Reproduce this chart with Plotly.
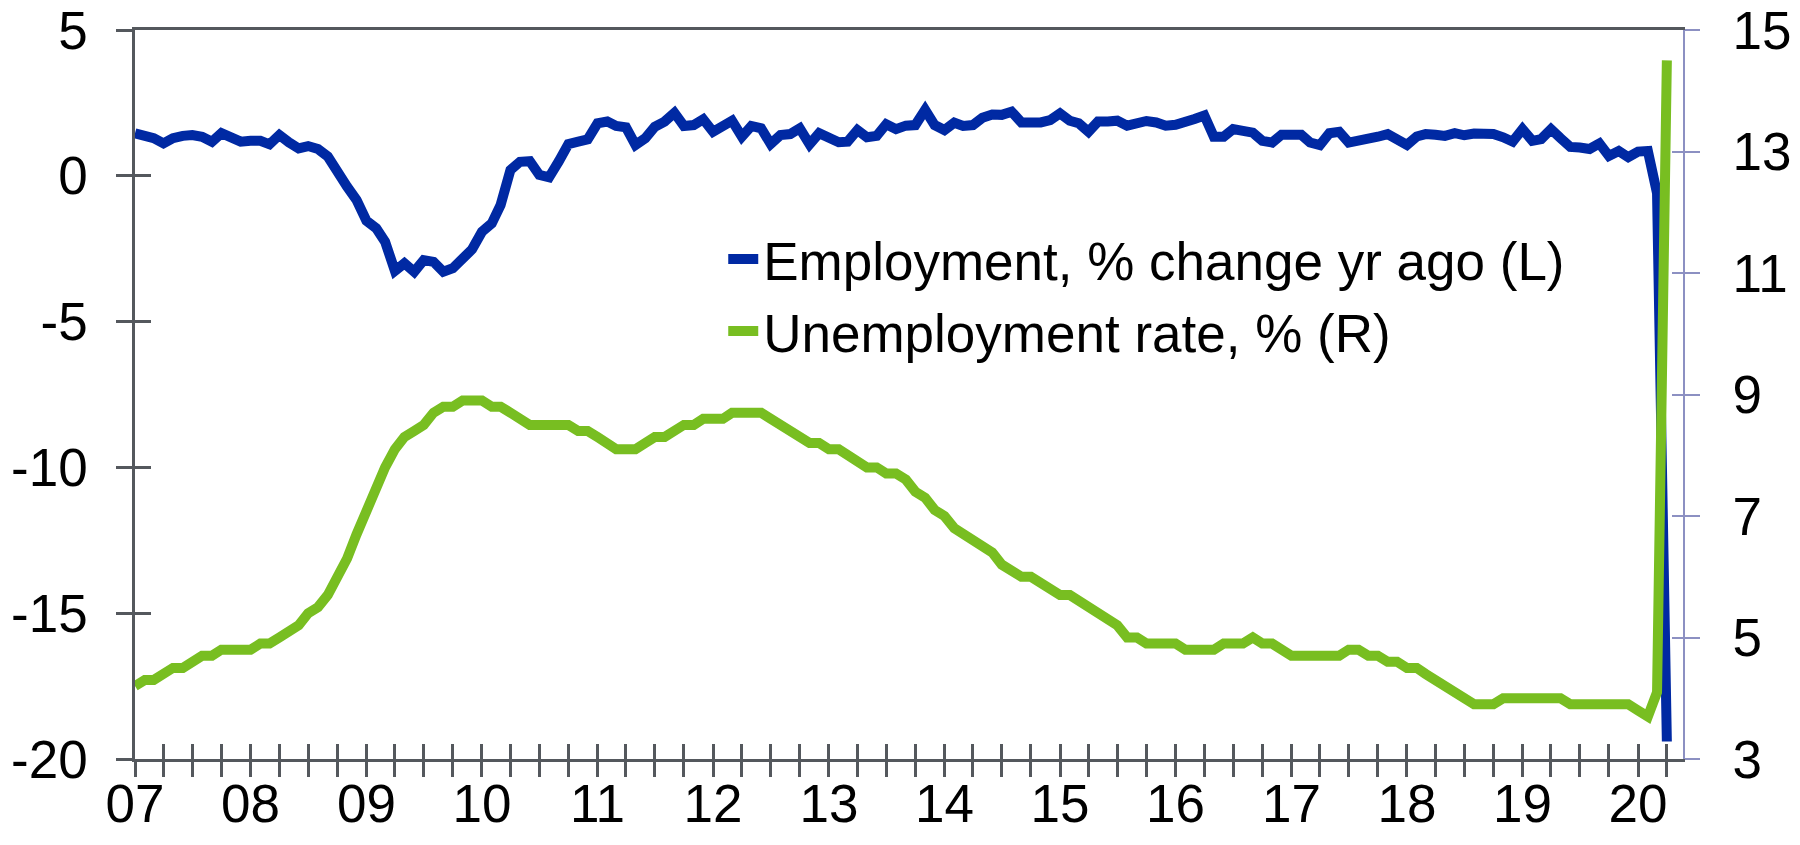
import pandas as pd
import plotly.graph_objects as go

# ---- data (monthly, Jan 2007 .. Apr 2020) ----
months = pd.date_range("2007-01-01", "2020-04-01", freq="MS")

employment_yoy = [
    1.46, 1.40, 1.29, 1.11, 1.29, 1.37, 1.40, 1.34, 1.17, 1.46, 1.34, 1.17,   # 2007
    1.20, 1.20, 1.08, 1.40, 1.15, 0.94, 1.02, 0.92, 0.66, 0.09, -0.37, -0.83, # 2008
    -1.54, -1.80, -2.26, -3.26, -3.00, -3.29, -2.89, -2.95, -3.29, -3.17, -2.83, -2.52,  # 2009
    -1.92, -1.63, -1.00, 0.20, 0.48, 0.50, 0.03, -0.05, 0.50, 1.09, 1.17, 1.25,  # 2010
    1.80, 1.86, 1.71, 1.66, 1.06, 1.29, 1.68, 1.86, 2.16, 1.71, 1.74, 1.94,   # 2011
    1.51, 1.68, 1.89, 1.34, 1.71, 1.63, 1.09, 1.40, 1.43, 1.63, 1.08, 1.46,   # 2012
    1.29, 1.15, 1.17, 1.57, 1.32, 1.37, 1.77, 1.60, 1.72, 1.74, 2.26, 1.74,   # 2013
    1.57, 1.82, 1.71, 1.74, 1.99, 2.10, 2.09, 2.20, 1.83, 1.80, 1.83, 1.91,   # 2014
    2.14, 1.89, 1.80, 1.51, 1.86, 1.86, 1.89, 1.72, 1.82, 1.88, 1.83, 1.72,   # 2015
    1.75, 1.81, 1.95, 2.07, 1.34, 1.34, 1.60, 1.54, 1.48, 1.20, 1.14, 1.41,   # 2016
    1.43, 1.41, 1.14, 1.05, 1.46, 1.51, 1.14, 1.20, 1.20, 1.34, 1.43, 1.26,   # 2017
    1.06, 1.35, 1.43, 1.41, 1.37, 1.46, 1.39, 1.45, 1.43, 1.43, 1.32, 1.17,   # 2018
    1.60, 1.20, 1.26, 1.60, 1.29, 0.99, 0.97, 0.92, 1.11, 0.68, 0.85, 0.64,   # 2019
    0.83, 0.85, -0.60, -19.40,                                                # 2020
]

unemployment_rate = [
    4.2, 4.3, 4.3, 4.4, 4.5, 4.5, 4.6, 4.7, 4.7, 4.8, 4.8, 4.8,   # 2007
    4.8, 4.9, 4.9, 5.0, 5.1, 5.2, 5.4, 5.5, 5.7, 6.0, 6.3, 6.7,   # 2008
    7.1, 7.5, 7.8, 8.1, 8.3, 8.4, 8.5, 8.7, 8.8, 8.8, 8.9, 8.9,   # 2009
    8.9, 8.8, 8.8, 8.7, 8.6, 8.5, 8.5, 8.5, 8.5, 8.5, 8.4, 8.4,   # 2010
    8.3, 8.2, 8.1, 8.1, 8.1, 8.2, 8.3, 8.3, 8.4, 8.5, 8.5, 8.6,   # 2011
    8.6, 8.6, 8.7, 8.7, 8.7, 8.7, 8.6, 8.5, 8.4, 8.3, 8.2, 8.2,   # 2012
    8.1, 8.1, 8.0, 7.9, 7.8, 7.8, 7.7, 7.7, 7.6, 7.4, 7.3, 7.1,   # 2013
    7.0, 6.8, 6.7, 6.6, 6.5, 6.4, 6.2, 6.1, 6.0, 6.0, 5.9, 5.8,   # 2014
    5.7, 5.7, 5.6, 5.5, 5.4, 5.3, 5.2, 5.0, 5.0, 4.9, 4.9, 4.9,   # 2015
    4.9, 4.8, 4.8, 4.8, 4.8, 4.9, 4.9, 4.9, 5.0, 4.9, 4.9, 4.8,   # 2016
    4.7, 4.7, 4.7, 4.7, 4.7, 4.7, 4.8, 4.8, 4.7, 4.7, 4.6, 4.6,   # 2017
    4.5, 4.5, 4.4, 4.3, 4.2, 4.1, 4.0, 3.9, 3.9, 3.9, 4.0, 4.0,   # 2018
    4.0, 4.0, 4.0, 4.0, 4.0, 3.9, 3.9, 3.9, 3.9, 3.9, 3.9, 3.9,   # 2019
    3.8, 3.7, 4.1, 14.5,                                          # 2020
]

series_names = ["Employment, % change yr ago (L)", "Unemployment rate, % (R)"]
left_ticks = [-20, -15, -10, -5, 0, 5]
left_labels = ["-20", "-15", "-10", "-5", "0", "5"]
right_ticks = [3, 5, 7, 9, 11, 13, 15]
quarter_ticks = pd.date_range("2007-01-01", "2020-04-01", freq="QS")
quarter_labels = [f"{d.year % 100:02d}" if d.month == 1 else "" for d in quarter_ticks]

# ---- styling ----
BLUE = "#0029a3"
GREEN = "#78be21"
AXIS_GREY = "#54585d"
LAVENDER = "#8c90c2"
FONT = "Arial, 'Liberation Sans', sans-serif"
FS = 53
X_RANGE = ["2007-01-01", "2020-05-22"]

fig = go.Figure()
fig.add_trace(go.Scatter(
    x=months, y=employment_yoy, name=series_names[0], mode="lines",
    line=dict(color=BLUE, width=10), xaxis="x", yaxis="y"))
fig.add_trace(go.Scatter(
    x=months, y=unemployment_rate, name=series_names[1], mode="lines",
    line=dict(color=GREEN, width=10), xaxis="x2", yaxis="y2"))
# transparent copies so the overlay axes that draw the inner tick halves get rendered
fig.add_trace(go.Scatter(
    x=months, y=employment_yoy, mode="lines", line=dict(width=0), opacity=0,
    showlegend=False, hoverinfo="skip", xaxis="x", yaxis="y3"))
fig.add_trace(go.Scatter(
    x=months, y=unemployment_rate, mode="lines", line=dict(width=0), opacity=0,
    showlegend=False, hoverinfo="skip", xaxis="x", yaxis="y4"))

common_x = dict(type="date", range=X_RANGE, tickmode="array",
                tickvals=list(quarter_ticks), showgrid=False, zeroline=False,
                automargin=False)

fig.update_layout(
    width=1800, height=845, autosize=False,
    margin=dict(l=135, r=117, t=30, b=86, pad=0),
    paper_bgcolor="white", plot_bgcolor="white",
    font=dict(family=FONT, size=FS, color="black"),
    showlegend=True,
    legend=dict(x=0.380, y=0.742, xanchor="left", yanchor="top",
                bgcolor="rgba(0,0,0,0)", font=dict(size=FS, family=FONT),
                tracegroupgap=0, itemwidth=30, traceorder="normal"),
    # main x axis: line, top frame and outer half of the crossing ticks
    xaxis=dict(**common_x, ticks="outside",
               ticklen=15, tickwidth=2.5, tickcolor=AXIS_GREY,
               showline=True, linecolor=AXIS_GREY, linewidth=2.5, mirror=True,
               showticklabels=False, anchor="y"),
    # overlay x axis: inner half of the crossing ticks plus the year labels
    xaxis2=dict(**common_x, ticktext=quarter_labels, overlaying="x", anchor="y",
                side="bottom", ticks="inside", ticklen=15, tickwidth=2.5,
                tickcolor=AXIS_GREY, showline=False, showticklabels=True,
                ticklabelstandoff=9, tickfont=dict(size=FS)),
    yaxis=dict(range=[-20, 5], tickmode="array", tickvals=left_ticks,
               ticktext=left_labels,
               ticks="outside", ticklen=16, tickwidth=2.5, tickcolor=AXIS_GREY,
               showline=True, linecolor=AXIS_GREY, linewidth=2.5,
               showgrid=False, zeroline=False, ticklabelstandoff=18,
               tickfont=dict(size=FS), anchor="x", automargin=False),
    yaxis3=dict(range=[-20, 5], tickmode="array", tickvals=left_ticks,
                overlaying="y", side="left", anchor="x", automargin=False,
                ticks="inside", ticklen=16, tickwidth=2.5, tickcolor=AXIS_GREY,
                showticklabels=False, showline=False, showgrid=False, zeroline=False),
    yaxis2=dict(range=[3, 15], tickmode="array", tickvals=right_ticks,
                overlaying="y", side="right", anchor="x", automargin=False,
                ticks="outside", ticklen=15, tickwidth=2, tickcolor=LAVENDER,
                showline=True, linecolor=LAVENDER, linewidth=2,
                showgrid=False, zeroline=False, ticklabelstandoff=22,
                tickfont=dict(size=FS)),
    yaxis4=dict(range=[3, 15], tickmode="array", tickvals=right_ticks,
                overlaying="y", side="right", anchor="x", automargin=False,
                ticks="inside", ticklen=11, tickwidth=2, tickcolor=LAVENDER,
                showticklabels=False, showline=False, showgrid=False, zeroline=False),
)

# remove the browser's default 8px body margin so the 1800x845 figure fills the window
fig.write_html("out.html",
               config={"displayModeBar": False},
               post_script="document.body.style.margin='0';document.body.style.overflow='hidden';")
